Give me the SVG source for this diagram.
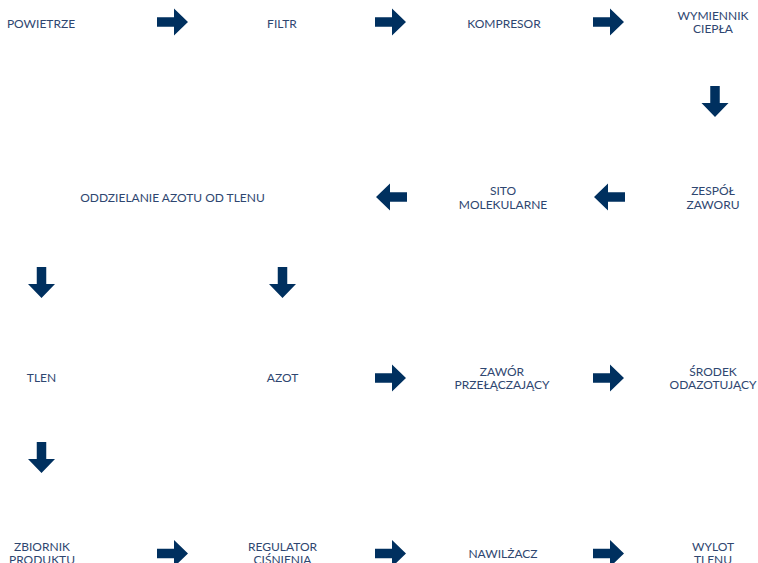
<svg xmlns="http://www.w3.org/2000/svg" width="758" height="563" viewBox="0 0 758 563">
<defs>
<style>
text{font-family:Lato,"Liberation Sans",sans-serif;font-size:12px;fill:#2e4670;text-anchor:middle}
.ar{fill:#00305f}
</style>
<path id="arr" class="ar" d="M0,-4.75H17V-13.5L31,0L17,13.5V4.75H0Z"/>
</defs>
<rect width="758" height="563" fill="#fff"/>
<g id="connectors">
<use href="#arr" transform="translate(157,22)"/>
<use href="#arr" transform="translate(375,22)"/>
<use href="#arr" transform="translate(593,22)"/>
<use href="#arr" transform="translate(715,86) rotate(90)"/>
<use href="#arr" transform="translate(625,197) rotate(180)"/>
<use href="#arr" transform="translate(407,197) rotate(180)"/>
<use href="#arr" transform="translate(41.5,267) rotate(90)"/>
<use href="#arr" transform="translate(282.5,267) rotate(90)"/>
<use href="#arr" transform="translate(375,378)"/>
<use href="#arr" transform="translate(593,378)"/>
<use href="#arr" transform="translate(41.5,442) rotate(90)"/>
<use href="#arr" transform="translate(157,553.5)"/>
<use href="#arr" transform="translate(375,553.5)"/>
<use href="#arr" transform="translate(593,553.5)"/>
</g>
<g id="powietrze"><text x="41" y="28">POWIETRZE</text></g>
<g id="filtr"><text x="282" y="28">FILTR</text></g>
<g id="kompresor"><text x="504" y="28">KOMPRESOR</text></g>
<g id="wymiennik"><text x="713" y="19.5">WYMIENNIK</text><text x="713" y="33">CIEPŁA</text></g>
<g id="zespol"><text x="713" y="194.5">ZESPÓŁ</text><text x="713" y="208.5">ZAWORU</text></g>
<g id="sito"><text x="503" y="194.5">SITO</text><text x="503" y="208.5">MOLEKULARNE</text></g>
<g id="oddzielanie"><text x="172.5" y="202">ODDZIELANIE AZOTU OD TLENU</text></g>
<g id="tlen"><text x="41.5" y="382">TLEN</text></g>
<g id="azot"><text x="282.5" y="382">AZOT</text></g>
<g id="zawor"><text x="502" y="375.5">ZAWÓR</text><text x="502" y="389">PRZEŁĄCZAJĄCY</text></g>
<g id="srodek"><text x="713" y="375.5">ŚRODEK</text><text x="713" y="389">ODAZOTUJĄCY</text></g>
<g id="zbiornik"><text x="42" y="550.5">ZBIORNIK</text><text x="42" y="564">PRODUKTU</text></g>
<g id="regulator"><text x="282.5" y="550.5">REGULATOR</text><text x="282.5" y="564">CIŚNIENIA</text></g>
<g id="nawilzacz"><text x="503" y="557.5">NAWILŻACZ</text></g>
<g id="wylot"><text x="713" y="550.5">WYLOT</text><text x="713" y="564">TLENU</text></g>
</svg>
